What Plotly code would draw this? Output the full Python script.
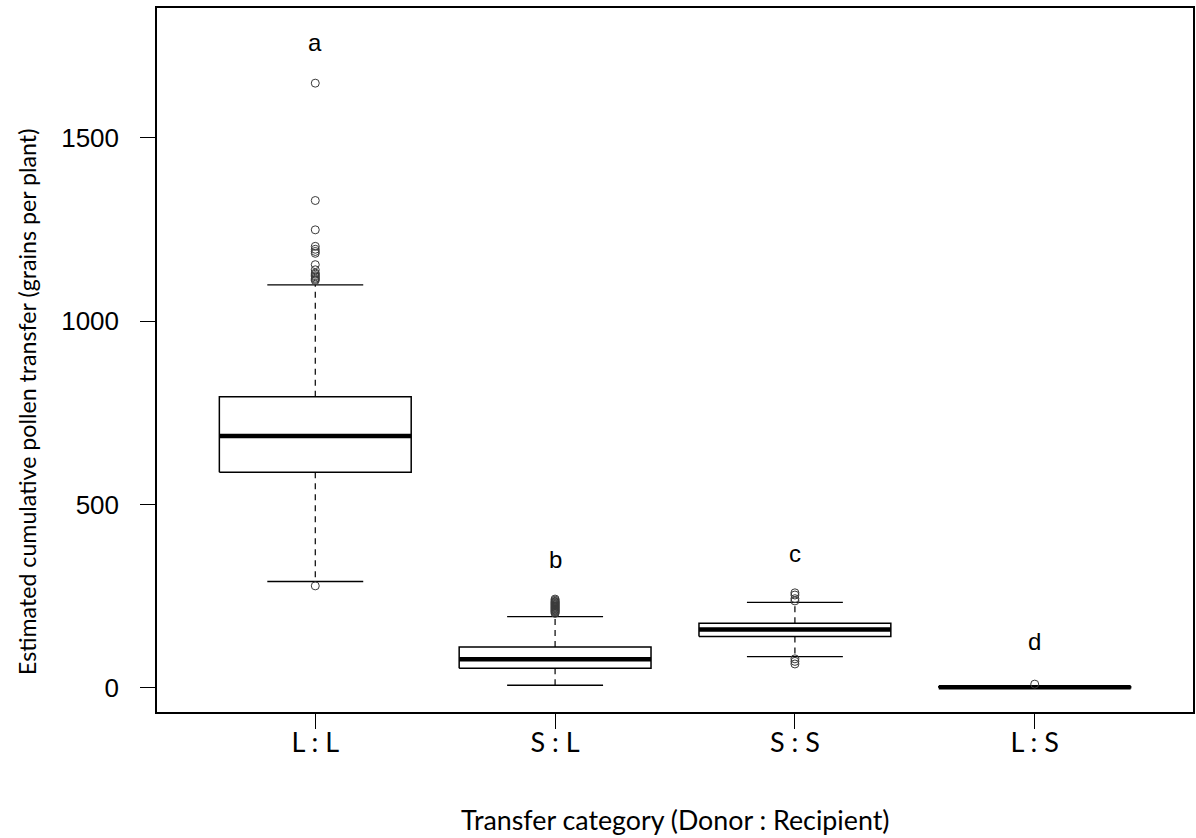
import plotly.graph_objects as go

# Transfer categories (Donor : Recipient)
categories = ["L : L", "S : L", "S : S", "L : S"]
group_letters = ["a", "b", "c", "d"]
letter_y = [1759, 351, 366, 126]

# Box-plot summary statistics (grains per plant)
q1 = [588, 53, 140, 0]
median = [687, 78, 159, 1.5]
q3 = [794, 111, 176, 3]
lower_whisker = [290, 7, 85, 0]
upper_whisker = [1099, 194, 233, 6]

# Outlying values per category
outliers = [
    [278, 1111, 1114, 1117, 1121, 1124, 1128, 1131, 1140, 1154, 1185,
     1190, 1196, 1204, 1249, 1329, 1649],
    [203, 206, 208, 210, 212, 214, 216, 218, 220, 222, 224, 226, 228,
     230, 232, 234, 236, 239, 242],
    [65, 72, 79, 237, 243, 253, 259],
    [10],
]

yticks = [0, 500, 1000, 1500]

BOX_HALF = 0.4
CAP_HALF = 0.2

fig = go.Figure()

for i, cat in enumerate(categories):
    x = i + 1
    # dashed whiskers
    for a, b in ((q3[i], upper_whisker[i]), (q1[i], lower_whisker[i])):
        fig.add_trace(go.Scatter(
            x=[x, x], y=[a, b], mode="lines",
            line=dict(color="black", width=1.2, dash="6px,5px"),
            hoverinfo="skip", showlegend=False))
    # whisker caps
    for v in (upper_whisker[i], lower_whisker[i]):
        fig.add_trace(go.Scatter(
            x=[x - CAP_HALF, x + CAP_HALF], y=[v, v], mode="lines",
            line=dict(color="black", width=1.4),
            hoverinfo="skip", showlegend=False))
    # box
    fig.add_trace(go.Scatter(
        x=[x - BOX_HALF, x + BOX_HALF, x + BOX_HALF, x - BOX_HALF, x - BOX_HALF],
        y=[q1[i], q1[i], q3[i], q3[i], q1[i]],
        mode="lines", fill="toself", fillcolor="white",
        line=dict(color="black", width=1.5),
        hoverinfo="skip", showlegend=False))
    # median
    fig.add_trace(go.Scatter(
        x=[x - BOX_HALF, x + BOX_HALF], y=[median[i], median[i]], mode="lines",
        line=dict(color="black", width=4.5),
        hoverinfo="skip", showlegend=False))
    # outliers
    fig.add_trace(go.Scatter(
        x=[x] * len(outliers[i]), y=outliers[i], mode="markers",
        marker=dict(symbol="circle-open", size=8, color="#3a3a3a",
                    line=dict(width=1, color="#3a3a3a")),
        hoverinfo="skip", showlegend=False))
    # significance group letter
    fig.add_annotation(
        x=x, y=letter_y[i], xref="x", yref="y", text=group_letters[i],
        showarrow=False, font=dict(family="Liberation Sans", size=24, color="black"))

axis_common = dict(
    showgrid=False, zeroline=False, showline=True, mirror=True,
    linecolor="black", linewidth=1.5, ticks="outside", ticklen=15,
    tickwidth=1.2, tickcolor="black",
)

fig.update_xaxes(
    range=[0.34, 4.66], tickvals=[1, 2, 3, 4], ticktext=categories,
    tickfont=dict(family="Lato", size=27, color="black"),
    ticklabelstandoff=-9, **axis_common)
fig.update_yaxes(
    range=[-66, 1854], tickvals=yticks, ticktext=[str(v) for v in yticks],
    tickfont=dict(family="Liberation Sans", size=26, color="black"),
    ticklabelstandoff=16, **axis_common)

# axis titles
fig.add_annotation(
    x=0.5, y=0, xref="paper", yref="paper", yshift=-108,
    text="Transfer category (Donor : Recipient)", showarrow=False,
    xanchor="center", yanchor="middle",
    font=dict(family="Lato", size=26.8, color="black"))
fig.add_annotation(
    x=0, y=0.4403, xref="paper", yref="paper", xshift=-130,
    text="Estimated cumulative pollen transfer (grains per plant)",
    showarrow=False, textangle=-90, xanchor="center", yanchor="middle",
    font=dict(family="Lato", size=23.2, color="black"))

fig.update_layout(
    width=1196, height=838,
    margin=dict(l=157, r=1, t=8, b=126),
    paper_bgcolor="white", plot_bgcolor="white",
    showlegend=False,
)

fig.write_html("out.html")
